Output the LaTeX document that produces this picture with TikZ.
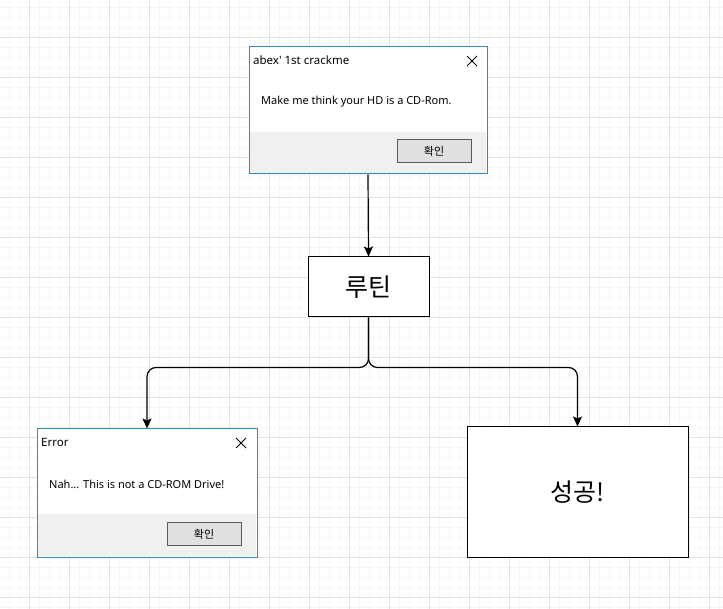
\documentclass[tikz,border=0pt]{standalone}
\usepackage{fontspec}
\setmainfont{Noto Sans}
\newfontfamily\kofont{Noto Sans CJK KR}
\usetikzlibrary{arrows.meta}

\definecolor{winblue}{RGB}{44,140,190}
\definecolor{footgray}{RGB}{240,240,240}
\definecolor{gridmajor}{RGB}{226,226,226}
\definecolor{gridminor}{RGB}{246,246,246}

\tikzset{
  dialog/.style={draw=winblue, fill=white, line width=1pt, inner sep=0pt},
  okbutton/.style={draw=black!65, fill=black!12, line width=1pt, minimum width=74, minimum height=23, inner sep=0pt, font=\kofont\fontsize{11}{13}\selectfont},
  stepbox/.style={draw, fill=white, line width=1pt, inner sep=0pt, font=\kofont\fontsize{25}{30}\selectfont},
  flow/.style={line width=1.2pt, -{Stealth[length=10pt,width=9pt,inset=2pt]}},
  dlgtext/.style={anchor=west, inner sep=0pt, font=\fontsize{11}{13}\selectfont},
}

\begin{document}
\begin{tikzpicture}[x=1pt, y=-1pt]
        \useasboundingbox (0,0) rectangle (723,609);
        % 배경 격자
        \fill[white] (0,0) rectangle (723,609);
        \foreach \i in {9,19,...,719} \draw[gridminor, line width=0.8pt] (\i,0) -- (\i,609);
        \foreach \j in {7,17,...,607} \draw[gridminor, line width=0.8pt] (0,\j) -- (723,\j);
        \foreach \i in {29,69,...,709} \draw[gridmajor, line width=0.8pt] (\i,0) -- (\i,609);
        \foreach \j in {37,77,...,597} \draw[gridmajor, line width=0.8pt] (0,\j) -- (723,\j);

        % 첫 번째 메시지 창
        \node[dialog, minimum width=238, minimum height=127] (abex) at (368,110.5) {};
        \fill[footgray] (250,132) rectangle (486,173);
        \node[dlgtext, font=\fontsize{11.5}{13}\selectfont] (abextitle) at (253,60) {abex\textquotesingle{} 1st crackme};
        \draw[line width=0.8pt] (467,56) -- (477,66) (477,56) -- (467,66);
        \node[dlgtext] (abexmsg) at (261,102) {Make me think your HD is a CD-Rom.};
        \node[okbutton] (abexok) at (434,151.5) {확인};

        % 루틴
        \node[stepbox, minimum width=121, minimum height=60] (routine) at (368.5,287) {루틴};

        % 에러 메시지 창
        \node[dialog, minimum width=220, minimum height=128] (error) at (147,493) {};
        \fill[footgray] (38,514) rectangle (256,556);
        \node[dlgtext, font=\fontsize{11.5}{13}\selectfont] (errortitle) at (41,442) {Error};
        \draw[line width=0.8pt] (236,438) -- (246,448) (246,438) -- (236,448);
        \node[dlgtext] (errormsg) at (49,484) {Nah... This is not a CD-ROM Drive!};
        \node[okbutton] (errorok) at (204,534) {확인};

        % 성공
        \node[stepbox, minimum width=221, minimum height=130] (success) at (577.5,492) {성공!};

        % 화살표
        \draw[flow] (abex.south) -- (routine.north);
        \draw[flow, rounded corners=9pt] (routine.south) -- ++(0,50) -| (error.north);
        \draw[flow, rounded corners=9pt] (routine.south) -- ++(0,50) -| (success.north);
    \end{tikzpicture}
\end{document}
